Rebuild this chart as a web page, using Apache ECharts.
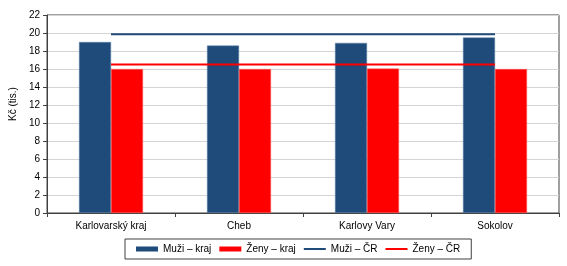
<!DOCTYPE html>
<html><head><meta charset="utf-8">
<script src="https://cdn.jsdelivr.net/npm/echarts@6/dist/echarts.min.js"></script>
<style>html,body{margin:0;padding:0;background:#fff}#c{width:567px;height:266px}</style>
</head><body><div id="c"></div>
<script>
const categories = ['Karlovarský kraj', 'Cheb', 'Karlovy Vary', 'Sokolov'];
const muziKraj = [19.0, 18.6, 18.9, 19.5];
const zenyKraj = [16.0, 16.0, 16.05, 16.0];
const muziCR = [19.85, 19.85, 19.85, 19.85];
const zenyCR = [16.5, 16.5, 16.5, 16.5];
const seriesNames = ['Muži – kraj', 'Ženy – kraj', 'Muži – ČR', 'Ženy – ČR'];
const yMin = 0, yMax = 22, yStep = 2;
const blue = '#1F4B7A', red = '#FF0000';
const font = 'Liberation Sans, Arial, sans-serif';

const chart = echarts.init(document.getElementById('c'));
chart.setOption({
  animation: false,
  textStyle: {fontFamily: font},
  grid: {left: 47, right: 8, top: 15, bottom: 53, show: true, borderColor: '#404040', borderWidth: 1},
  legend: {
    left: 125, top: 239,
    padding: [5, 11, 5, 11],
    itemGap: 8, itemWidth: 22, itemHeight: 5,
    borderColor: '#404040', borderWidth: 1,
    symbolKeepAspect: true,
    itemStyle: {borderWidth: 0},
    textStyle: {fontSize: 10, color: '#000', fontFamily: font},
    data: [
      {name: seriesNames[0], icon: 'rect'},
      {name: seriesNames[1], icon: 'rect'},
      {name: seriesNames[2], icon: 'path://M0,0h22v2h-22z'},
      {name: seriesNames[3], icon: 'path://M0,0h22v2h-22z'}
    ]
  },
  xAxis: {
    type: 'category', data: categories, boundaryGap: true,
    axisLine: {lineStyle: {color: '#404040'}},
    axisTick: {show: true, length: 4, lineStyle: {color: '#404040'}},
    axisLabel: {fontSize: 10, color: '#000', margin: 8, fontFamily: font}
  },
  yAxis: {
    type: 'value', min: yMin, max: yMax, interval: yStep,
    name: 'Kč (tis.)', nameLocation: 'middle', nameGap: 23, nameRotate: 90,
    nameTextStyle: {fontSize: 10, color: '#000', fontFamily: font, padding: [0, 0, 0, 20]},
    axisLine: {show: true, lineStyle: {color: '#404040'}},
    axisTick: {show: true, length: 4, lineStyle: {color: '#404040'}},
    axisLabel: {fontSize: 10, color: '#000', margin: 7, fontFamily: font},
    splitLine: {lineStyle: {color: '#d4d4d4'}}
  },
  series: [
    {name: seriesNames[0], type: 'bar', data: muziKraj, barGap: '0%', barCategoryGap: '50%',
     itemStyle: {color: blue, borderColor: '#5d80a8', borderWidth: 0.5}},
    {name: seriesNames[1], type: 'bar', data: zenyKraj,
     itemStyle: {color: red, borderColor: '#ff6060', borderWidth: 0.5}},
    {name: seriesNames[2], type: 'line', data: muziCR, symbol: 'none', z: 3,
     lineStyle: {color: blue, width: 2}, itemStyle: {color: blue}},
    {name: seriesNames[3], type: 'line', data: zenyCR, symbol: 'none', z: 3,
     lineStyle: {color: red, width: 2}, itemStyle: {color: red}}
  ]
});
</script></body></html>
